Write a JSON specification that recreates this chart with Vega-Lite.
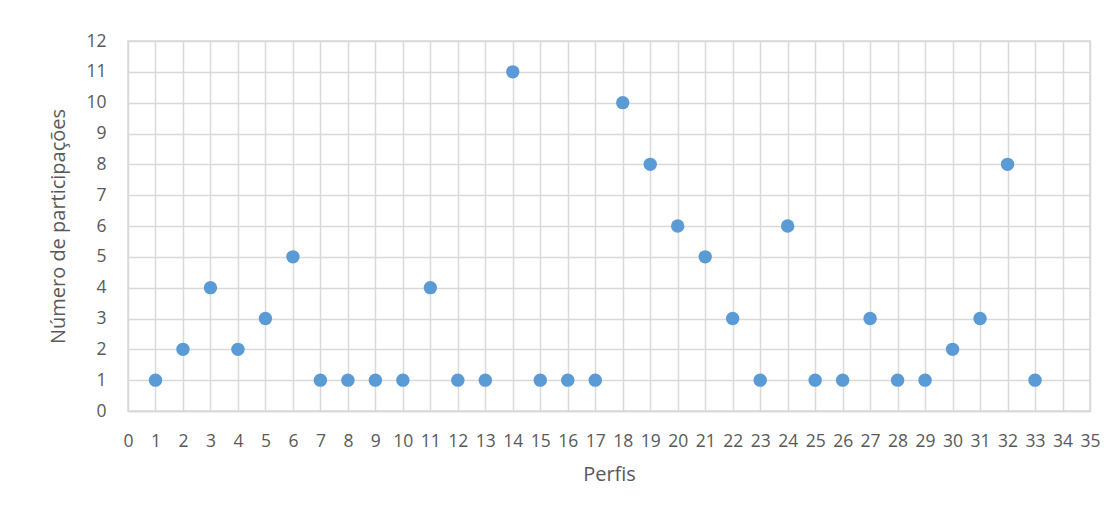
{
  "$schema": "https://vega.github.io/schema/vega-lite/v6.json",
  "width": 962,
  "height": 370,
  "autosize": "none",
  "padding": {"left": 128, "top": 41, "right": 28, "bottom": 112},
  "background": "white",
  "config": {
    "view": {"stroke": "#d9d9d9", "strokeWidth": 1.5},
    "axis": {
      "labelFont": "Open Sans",
      "titleFont": "Open Sans",
      "labelFontSize": 17.5,
      "titleFontSize": 20,
      "labelColor": "#595959",
      "titleColor": "#595959",
      "titleFontWeight": "normal",
      "gridColor": "#d9d9d9",
      "gridWidth": 1.5,
      "domainColor": "#d9d9d9",
      "domainWidth": 1.5,
      "ticks": false
    }
  },
  "data": {
    "values": [
      {"perfil": 1, "n": 1}, {"perfil": 2, "n": 2}, {"perfil": 3, "n": 4},
      {"perfil": 4, "n": 2}, {"perfil": 5, "n": 3}, {"perfil": 6, "n": 5},
      {"perfil": 7, "n": 1}, {"perfil": 8, "n": 1}, {"perfil": 9, "n": 1},
      {"perfil": 10, "n": 1}, {"perfil": 11, "n": 4}, {"perfil": 12, "n": 1},
      {"perfil": 13, "n": 1}, {"perfil": 14, "n": 11}, {"perfil": 15, "n": 1},
      {"perfil": 16, "n": 1}, {"perfil": 17, "n": 1}, {"perfil": 18, "n": 10},
      {"perfil": 19, "n": 8}, {"perfil": 20, "n": 6}, {"perfil": 21, "n": 5},
      {"perfil": 22, "n": 3}, {"perfil": 23, "n": 1}, {"perfil": 24, "n": 6},
      {"perfil": 25, "n": 1}, {"perfil": 26, "n": 1}, {"perfil": 27, "n": 3},
      {"perfil": 28, "n": 1}, {"perfil": 29, "n": 1}, {"perfil": 30, "n": 2},
      {"perfil": 31, "n": 3}, {"perfil": 32, "n": 8}, {"perfil": 33, "n": 1}
    ]
  },
  "mark": {"type": "point", "filled": true, "opacity": 1, "size": 180, "color": "#5b9bd5"},
  "encoding": {
    "x": {
      "field": "perfil",
      "type": "quantitative",
      "title": "Perfis",
      "scale": {"domain": [0, 35], "nice": false, "zero": true},
      "axis": {"values": [0,1,2,3,4,5,6,7,8,9,10,11,12,13,14,15,16,17,18,19,20,21,22,23,24,25,26,27,28,29,30,31,32,33,34,35], "labelPadding": 21, "titlePadding": 15, "labelFlush": false, "labelOverlap": false}
    },
    "y": {
      "field": "n",
      "type": "quantitative",
      "title": "Número de participações",
      "scale": {"domain": [0, 12], "nice": false},
      "axis": {"values": [0,1,2,3,4,5,6,7,8,9,10,11,12], "labelPadding": 22, "titlePadding": 17, "domain": false, "labelFlush": false}
    }
  }
}
